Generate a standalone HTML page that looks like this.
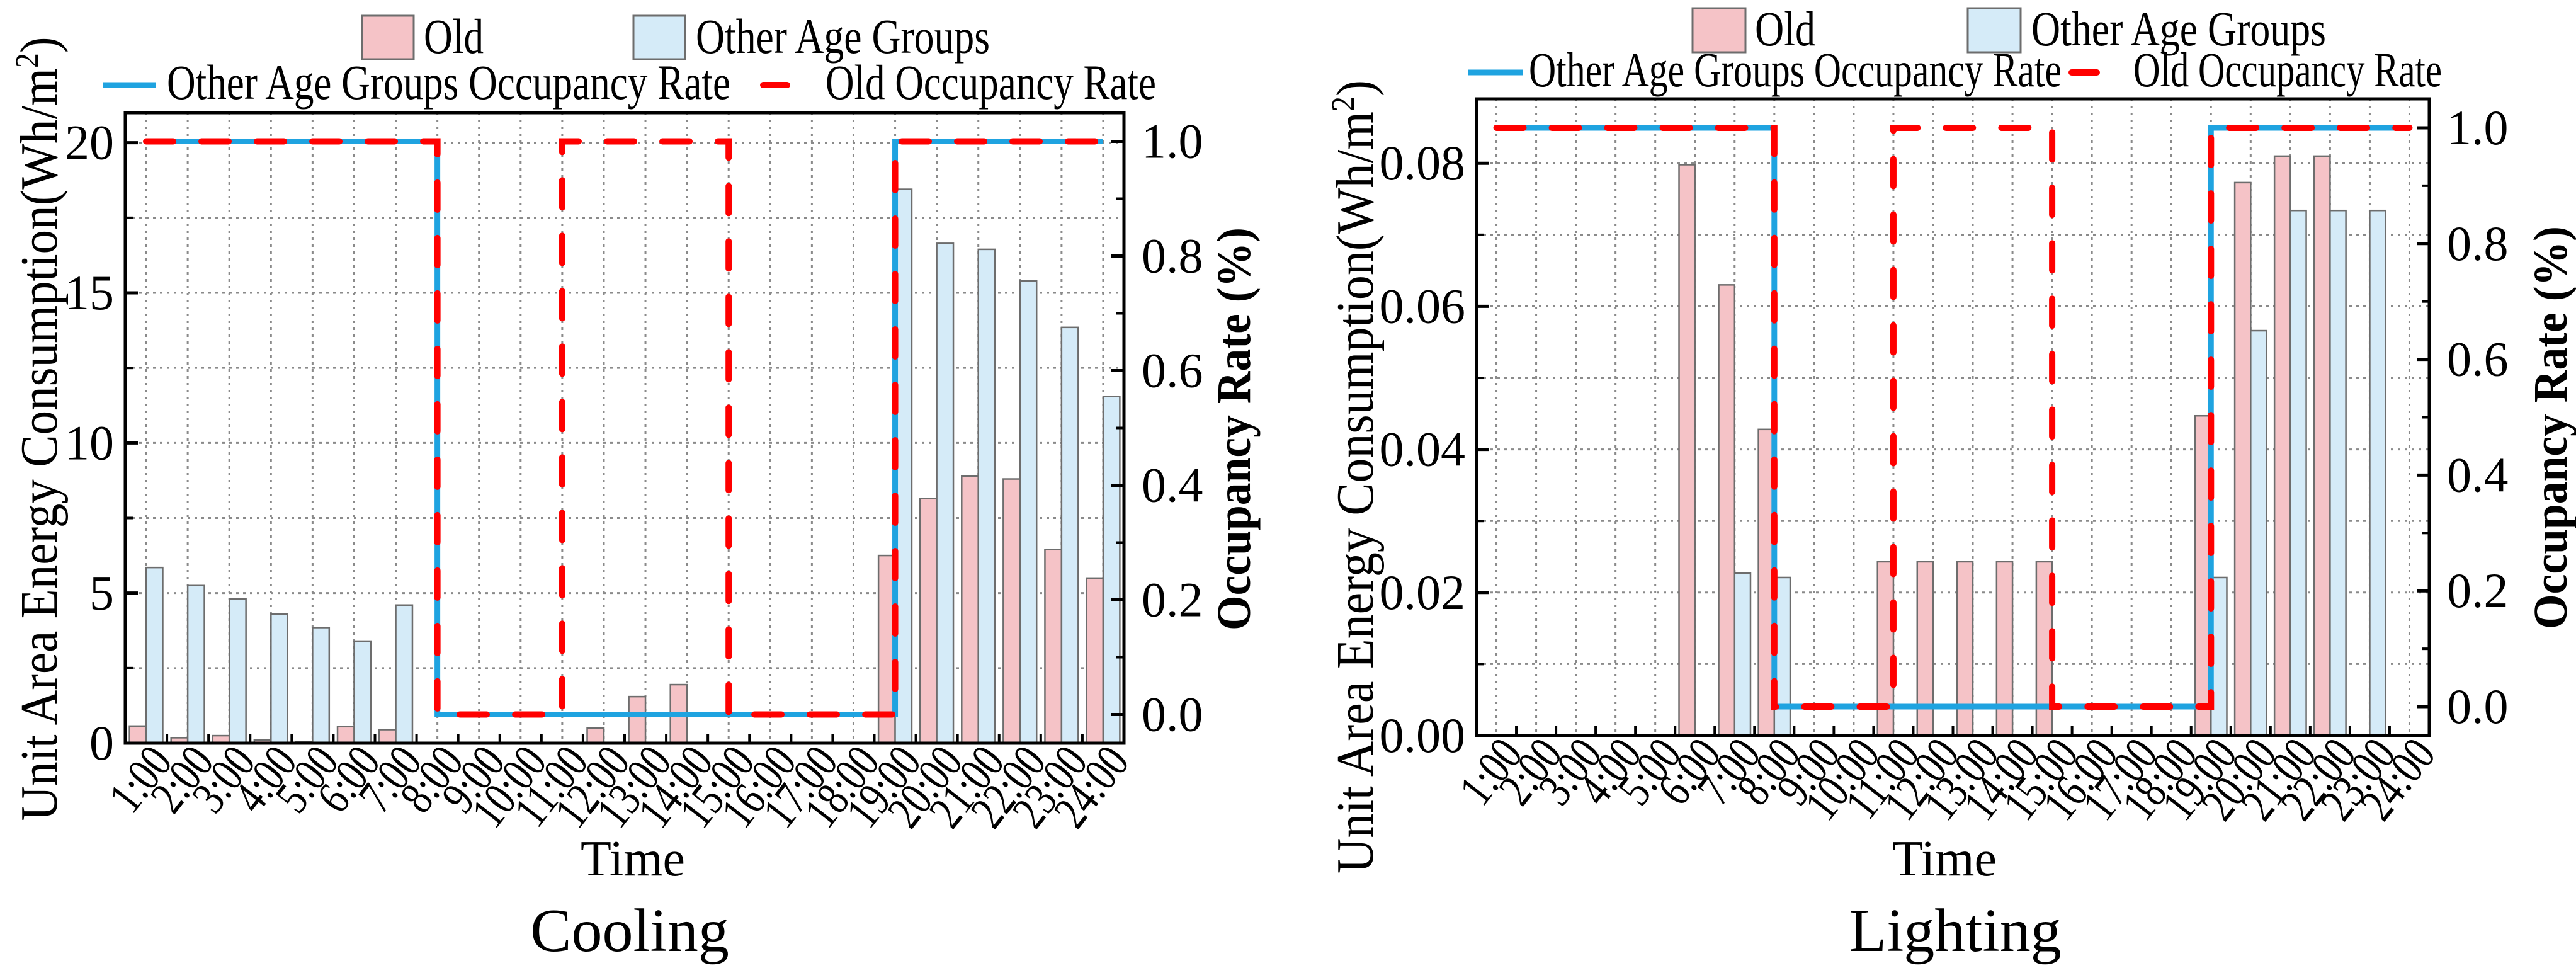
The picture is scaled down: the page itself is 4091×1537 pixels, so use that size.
<!DOCTYPE html>
<html><head><meta charset="utf-8">
<style>
html,body{margin:0;padding:0;background:#fff;}
svg{display:block;}
text{font-family:"Liberation Serif",serif;fill:#000;}
</style></head>
<body>
<svg id="fig" width="4091" height="1537" viewBox="0 0 4091 1537" xmlns="http://www.w3.org/2000/svg"></svg>
<script>
// ---- shared categories ----
const categories = ["1:00","2:00","3:00","4:00","5:00","6:00","7:00","8:00","9:00","10:00","11:00","12:00","13:00","14:00","15:00","16:00","17:00","18:00","19:00","20:00","21:00","22:00","23:00","24:00"];
// ---- cooling data ----
const coolingOld   = [0.57,0.18,0.25,0.1,0.05,0.55,0.45,0,0,0,0,0.5,1.55,1.95,0,0,0,0,6.25,8.15,8.9,8.8,6.45,5.5];
const coolingOther = [5.85,5.25,4.8,4.3,3.85,3.4,4.6,0,0,0,0,0,0,0,0,0,0,0,18.45,16.65,16.45,15.4,13.85,11.55];
const coolingYTicks = [0,5,10,15,20];
// ---- lighting data ----
const lightingOld   = [0,0,0,0,0,0.0798,0.063,0.0428,0,0,0.0243,0.0243,0.0243,0.0243,0.0243,0,0,0,0.0447,0.0773,0.081,0.081,0,0];
const lightingOther = [0,0,0,0,0,0,0.0227,0.0221,0,0,0,0,0,0,0,0,0,0,0.0221,0.0566,0.0734,0.0734,0.0734,0];
const lightingYTicks = [0,0.02,0.04,0.06,0.08];
// ---- occupancy (shared schedule) ----
const occOther = [1,1,1,1,1,1,1,1,0,0,0,0,0,0,0,0,0,0,0,1,1,1,1,1];
const occOld   = [1,1,1,1,1,1,1,1,0,0,0,1,1,1,1,0,0,0,0,1,1,1,1,1];
const occTicks = [0,0.2,0.4,0.6,0.8,1.0];

const NS="http://www.w3.org/2000/svg";
const svg=document.getElementById('fig');
function mk(tag,attrs,parent){const e=document.createElementNS(NS,tag);for(const k in attrs)e.setAttribute(k,attrs[k]);(parent||svg).appendChild(e);return e;}

function drawChart(c){
  const g=mk('g',{});
  
  
  const L=c.x0,R=c.x1,T=c.y0,B=c.y1,n=categories.length,step=(R-L)/n;
  const xc=i=>L+(i+0.5)*step;
  const yL=v=>B-(v-c.ymin)/(c.ymax-c.ymin)*(B-T);
  const yR=v=>B-(v+0.05)/1.1*(B-T);
  for(let i=0;i<n;i++){
    const ln=mk('line',{x1:xc(i),x2:xc(i),y1:T,y2:B,stroke:'#8a8a8a','stroke-width':3,'stroke-dasharray':'4 7'},g);
    
    
  }
  const half=(c.yTicks[1]-c.yTicks[0])/2;
  for(let v=c.ymin;v<=c.ymax+1e-9;v+=half){
    if(v<=c.ymin+1e-9)continue;
    const ln=mk('line',{x1:L,x2:R,y1:yL(v),y2:yL(v),stroke:'#8a8a8a','stroke-width':3,'stroke-dasharray':'4 7'},g);
    
    
  }
  const bw=step*0.4;
  for(let i=0;i<n;i++){
    if(c.old[i]>0){
      const r=mk('rect',{x:xc(i)-bw,y:yL(c.old[i]),width:bw,height:B-yL(c.old[i]),fill:'#f5c3c7',stroke:'#6d6d6d','stroke-width':2.5},g);
      
      
    }
    if(c.other[i]>0){
      const r=mk('rect',{x:xc(i),y:yL(c.other[i]),width:bw,height:B-yL(c.other[i]),fill:'#d5ebf8',stroke:'#6d6d6d','stroke-width':2.5},g);
      
      
    }
  }
  function stepPath(arr){
    let d='M'+xc(0)+','+yR(arr[0]);
    for(let i=1;i<n;i++){
      if(arr[i]!==arr[i-1]){d+=' L'+xc(i-1)+','+yR(arr[i-1])+' L'+xc(i-1)+','+yR(arr[i]);}
    }
    d+=' L'+xc(n-1)+','+yR(arr[n-1]);
    return d;
  }
  const pb=mk('path',{d:stepPath(occOther),fill:'none',stroke:'#1fa3e0','stroke-width':9},g);
  
  
  const pr=mk('path',{d:stepPath(occOld),fill:'none',stroke:'#ff0000','stroke-width':10,'stroke-dasharray':'43 45','stroke-linecap':'round'},g);
  
  
  const fr=mk('rect',{x:L,y:T,width:R-L,height:B-T,fill:'none',stroke:'#000','stroke-width':5},g);
  
  
  c.yTicks.forEach(v=>{
    mk('line',{x1:L,x2:L+20,y1:yL(v),y2:yL(v),stroke:'#000','stroke-width':5},g);
    const t=mk('text',{x:L-18,y:yL(v)+26,'font-size':78,'text-anchor':'end'},g);
    t.textContent=c.fmt(v);
    
    
    if(v+half<c.ymax) mk('line',{x1:L,x2:L+12,y1:yL(v+half),y2:yL(v+half),stroke:'#000','stroke-width':4},g);
  });
  occTicks.forEach(v=>{
    mk('line',{x1:R,x2:R-20,y1:yR(v),y2:yR(v),stroke:'#000','stroke-width':5},g);
    if(v<1) mk('line',{x1:R,x2:R-12,y1:yR(v+0.1),y2:yR(v+0.1),stroke:'#000','stroke-width':4},g);
    const t=mk('text',{x:R+28,y:yR(v)+26,'font-size':78},g);
    t.textContent=v.toFixed(1);
    
    
  });
  for(let i=0;i<=n;i++){
    mk('line',{x1:L+i*step,x2:L+i*step,y1:B,y2:B-15,stroke:'#000','stroke-width':4},g);
  }
  categories.forEach((s,i)=>{
    const x=xc(i)+44,y=B+30;
    const t=mk('text',{x:x,y:y,'font-size':76,'text-anchor':'end',transform:'rotate(-52 '+x+' '+y+')'},g);
    t.textContent=s;
    
    
    const w=t.getComputedTextLength();
    if(w>0){t.setAttribute('textLength',(w*0.8).toFixed(1));t.setAttribute('lengthAdjust','spacingAndGlyphs');}
  });
  const tx=mk('text',{x:c.timeX,y:1390,'font-size':80,'text-anchor':'middle'},g);
  tx.textContent='Time';
  
  
  const cap=mk('text',{x:c.capX,y:1510,'font-size':98,'text-anchor':'middle'},g);
  cap.textContent=c.caption;
  
  
  const yt=mk('text',{x:c.ytX,y:c.ytY,'font-size':84,'text-anchor':'middle',textLength:c.ytLen,lengthAdjust:'spacingAndGlyphs',transform:'rotate(-90 '+c.ytX+' '+c.ytY+')'},g);
  yt.innerHTML='Unit Area Energy Consumption(Wh/m<tspan dy="-30" font-size="52">2</tspan><tspan dy="30">)</tspan>';
  
  
  const rt=mk('text',{x:c.rtX,y:c.rtY,'font-size':76,'font-weight':'bold','text-anchor':'middle',textLength:640,lengthAdjust:'spacingAndGlyphs',transform:'rotate(-90 '+c.rtX+' '+c.rtY+')'},g);
  rt.textContent='Occupancy Rate (%)';
  
  
  const lg=c.leg;
  const s1=mk('rect',{x:lg.oldSw,y:lg.sy,width:lg.swW,height:lg.sh,fill:'#f5c3c7',stroke:'#6d6d6d','stroke-width':3},g);
  
  
  const t1=mk('text',{x:lg.oldTx,y:lg.r1,'font-size':78,textLength:lg.oldLen,lengthAdjust:'spacingAndGlyphs'},g);
  t1.textContent='Old';
  
  
  const s2=mk('rect',{x:lg.othSw,y:lg.sy,width:lg.swW,height:lg.sh,fill:'#d5ebf8',stroke:'#6d6d6d','stroke-width':3},g);
  
  
  const t2=mk('text',{x:lg.othTx,y:lg.r1,'font-size':78,textLength:lg.othLen,lengthAdjust:'spacingAndGlyphs'},g);
  t2.textContent='Other Age Groups';
  
  
  const l1=mk('line',{x1:lg.bl0,x2:lg.bl1,y1:lg.r2-22,y2:lg.r2-22,stroke:'#1fa3e0','stroke-width':9},g);
  
  
  const t3=mk('text',{x:lg.t3X,y:lg.r2,'font-size':78,textLength:lg.t3Len,lengthAdjust:'spacingAndGlyphs'},g);
  t3.textContent='Other Age Groups Occupancy Rate';
  
  
  const l2=mk('line',{x1:lg.rd0,x2:lg.rd1,y1:lg.r2-22,y2:lg.r2-22,stroke:'#ff0000','stroke-width':10,'stroke-linecap':'round'},g);
  
  
  const t4=mk('text',{x:lg.t4X,y:lg.r2,'font-size':78,textLength:lg.t4Len,lengthAdjust:'spacingAndGlyphs'},g);
  t4.textContent='Old Occupancy Rate';
  
  
}

drawChart({id:'cooling',x0:199,x1:1785,y0:179,y1:1180,ymin:0,ymax:21,yTicks:coolingYTicks,old:coolingOld,other:coolingOther,
  fmt:v=>String(v),timeX:1005,capX:1000,caption:'Cooling',ytX:90,ytY:681,ytLen:1245,rtX:1985,rtY:681,
  leg:{oldSw:575,othSw:1006,swW:82,sy:25,sh:69,r1:84,r2:157,oldTx:673,oldLen:95,othTx:1105,othLen:467,bl0:163,bl1:248,t3X:265,t3Len:895,rd0:1212,rd1:1250,t4X:1311,t4Len:525}});
drawChart({id:'lighting',x0:2345,x1:3858,y0:157,y1:1168,ymin:0,ymax:0.089,yTicks:lightingYTicks,old:lightingOld,other:lightingOther,
  fmt:v=>v.toFixed(2),timeX:3088,capX:3105,caption:'Lighting',ytX:2180,ytY:757,ytLen:1260,rtX:4076,rtY:679,
  leg:{oldSw:2688,othSw:3125,swW:84,sy:13,sh:70,r1:72,r2:137,oldTx:2787,oldLen:96,othTx:3226,othLen:468,bl0:2332,bl1:2418,t3X:2428,t3Len:846,rd0:3290,rd1:3330,t4X:3388,t4Len:490}});
</script>
</body></html>
